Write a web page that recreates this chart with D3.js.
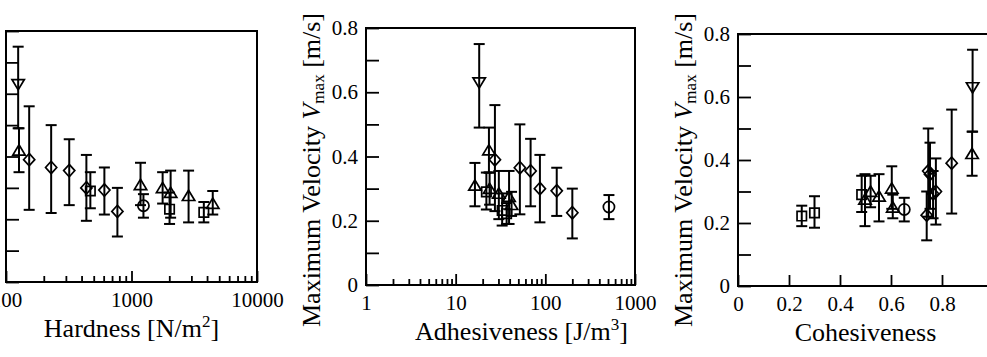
<!DOCTYPE html>
<html>
<head>
<meta charset="utf-8">
<script src="https://cdn.jsdelivr.net/npm/d3@7"></script>
<style>
  body { margin: 0; background: #fff; }
</style>
</head>
<body>
<svg id="chart" width="987" height="357"></svg>
<script>
// one entry per sample, same order in every array
const shapes = ["down", "up", "up", "up", "up", "up", "up",
  "diamond", "diamond", "diamond", "diamond", "diamond", "diamond",
  "square", "square", "square", "circle"];
const vmax    = [0.63, 0.42, 0.31, 0.30, 0.285, 0.275, 0.25, 0.39, 0.365, 0.355, 0.30, 0.293, 0.225, 0.29, 0.232, 0.222, 0.243];
const vmaxLow = [0.49, 0.35, 0.245, 0.25, 0.205, 0.19, 0.215, 0.23, 0.22, 0.245, 0.195, 0.215, 0.145, 0.235, 0.185, 0.19, 0.205];
const vmaxHigh = [0.75, 0.49, 0.38, 0.35, 0.355, 0.355, 0.29, 0.56, 0.50, 0.455, 0.405, 0.365, 0.30, 0.35, 0.285, 0.255, 0.28];
const hardness     = [125, 127, 1180, 1770, 2050, 2850, 4440, 153, 229, 319, 437, 608, 772, 470, 2010, 3770, 1245];
const adhesiveness = [18.3, 23.5, 16.4, 23.9, 30.3, 39.4, 42, 27.4, 52, 68.5, 87, 134, 200, 22, 33, 37, 512];
const cohesiveness = [0.92, 0.918, 0.603, 0.52, 0.553, 0.498, 0.607, 0.838, 0.746, 0.753, 0.776, 0.765, 0.74, 0.485, 0.30, 0.25, 0.652];

const yTicks = [0, 0.1, 0.2, 0.3, 0.4, 0.5, 0.6, 0.7, 0.8];
const cohesivenessTicks = [0, 0.2, 0.4, 0.6, 0.8];

const FONT = '"Liberation Serif", "Times New Roman", serif';

// first panel is cropped at its left edge, so its y labels fall off the page
const panels = [
  { values: hardness, log: true, domain: [100, 10000], major: [100, 1000, 10000],
    left: 6, right: 257, top: 31, bottom: 282, title: ["Hardness [N/m", "2", "]"], titleShift: 0, yLabels: false },
  { values: adhesiveness, log: true, domain: [1, 1000], major: [1, 10, 100, 1000],
    left: 366, right: 635, top: 28, bottom: 285, title: ["Adhesiveness [J/m", "3", "]"], titleShift: 21, yTitle: true, yLabels: true },
  { values: cohesiveness, log: false, domain: [0, 1], major: cohesivenessTicks,
    left: 738, right: 993, top: 34, bottom: 286, title: ["Cohesiveness", "", ""], titleShift: 0, yTitle: true, yLabels: true }
];

const svg = d3.select("#chart");

function markerPath(shape) {
  if (shape === "up") return "M0,-5.5L6.2,4.8L-6.2,4.8Z";
  if (shape === "down") return "M0,5.5L6.2,-4.8L-6.2,-4.8Z";
  if (shape === "diamond") return "M0,-6.2L5.6,0L0,6.2L-5.6,0Z";
  if (shape === "square") return "M-4.7,-4.7H4.7V4.7H-4.7Z";
  const c = d3.path();
  c.arc(0, 0, 5.6, 0, 2 * Math.PI);
  return c.toString();
}

function styleAxis(a) {
  a.select(".domain").remove();
  a.attr("font-family", null).attr("font-size", null);
  a.selectAll("line").attr("stroke", "#000").attr("stroke-width", 1.8);
  a.selectAll("text").attr("fill", "#000")
    .style("font-family", FONT).style("font-size", "21px");
}

panels.forEach(p => {
  const g = svg.append("g");
  const x = (p.log ? d3.scaleLog() : d3.scaleLinear()).domain(p.domain).range([p.left, p.right]);
  const y = d3.scaleLinear().domain([0, 0.8]).range([p.bottom, p.top]);

  // bottom axis
  g.append("g")
    .attr("transform", `translate(0,${p.bottom})`)
    .call(d3.axisBottom(x).tickValues(p.major).tickSize(-11).tickPadding(10)
      .tickFormat(d => p.log ? d3.format("d")(d) : (d === 0 ? "0" : d3.format(".1f")(d))))
    .call(styleAxis);
  if (p.log) {
    const minor = x.ticks().filter(d => !p.major.includes(d));
    g.append("g")
      .attr("transform", `translate(0,${p.bottom})`)
      .call(d3.axisBottom(x).tickValues(minor).tickSize(-6).tickFormat(""))
      .call(styleAxis);
  }

  // left axis
  g.append("g")
    .attr("transform", `translate(${p.left},0)`)
    .call(d3.axisLeft(y).tickValues(yTicks).tickSize(-13).tickPadding(8)
      .tickFormat(d => {
        const k = Math.round(d * 10);
        if (!p.yLabels || k % 2) return "";
        return k === 0 ? "0" : d3.format(".1f")(d);
      }))
    .call(styleAxis);

  // frame
  g.append("rect")
    .attr("x", p.left).attr("y", p.top)
    .attr("width", p.right - p.left).attr("height", p.bottom - p.top)
    .attr("fill", "none").attr("stroke", "#000").attr("stroke-width", 2);

  // error bars
  const idx = d3.range(shapes.length);
  const eb = g.append("g").attr("stroke", "#000").attr("stroke-width", 2);
  eb.selectAll(".v").data(idx).join("line")
    .attr("x1", i => x(p.values[i])).attr("x2", i => x(p.values[i]))
    .attr("y1", i => y(vmaxLow[i])).attr("y2", i => y(vmaxHigh[i]));
  [vmaxLow, vmaxHigh].forEach(arr => {
    eb.append("g").selectAll("line").data(idx).join("line")
      .attr("x1", i => x(p.values[i]) - 5.5).attr("x2", i => x(p.values[i]) + 5.5)
      .attr("y1", i => y(arr[i])).attr("y2", i => y(arr[i]));
  });

  // markers
  g.append("g").selectAll("path").data(idx).join("path")
    .attr("transform", i => `translate(${x(p.values[i])},${y(vmax[i])})`)
    .attr("d", i => markerPath(shapes[i]))
    .attr("fill", "none").attr("stroke", "#000").attr("stroke-width", 1.7);

  // x title
  const t = g.append("text")
    .attr("x", (p.left + p.right) / 2 + p.titleShift)
    .attr("y", p.bottom + 55)
    .attr("text-anchor", "middle")
    .style("font-family", FONT)
    .style("font-size", "26px");
  t.append("tspan").text(p.title[0]);
  if (p.title[1]) {
    t.append("tspan").style("font-size", "17px").attr("dy", -10).text(p.title[1]);
    t.append("tspan").attr("dy", 10).text(p.title[2]);
  }

  // y title
  if (p.yTitle) {
    const yt = g.append("text")
      .attr("transform", `translate(${p.left - 46},170) rotate(-90)`)
      .attr("text-anchor", "middle")
      .style("font-family", FONT)
      .style("font-size", "26px");
    yt.append("tspan").text("Maximum Velocity ");
    yt.append("tspan").style("font-style", "italic").text("V");
    yt.append("tspan").style("font-size", "17px").attr("dy", 4).text("max");
    yt.append("tspan").attr("dy", -4).text(" [m/s]");
  }
});
</script>
</body>
</html>
